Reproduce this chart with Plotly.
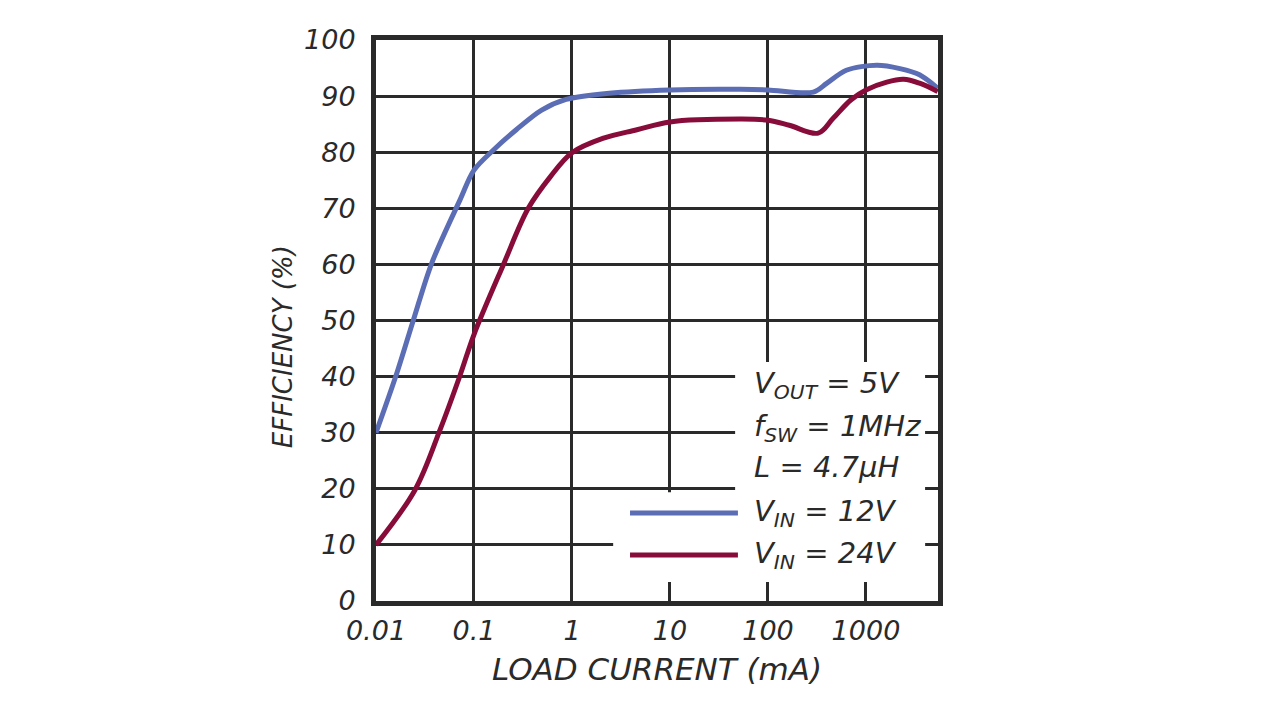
import plotly.graph_objects as go

# efficiency vs load current
load_12v = [0.01, 0.0163, 0.024, 0.037, 0.072, 0.1, 0.158, 0.27, 0.49, 0.87, 2.4, 10, 52, 100,
            290, 400, 630, 1290, 2220, 3520, 5400]
eff_12v = [30, 40.6, 50, 60.2, 71.5, 76.8, 80.4, 84, 87.5, 89.4, 90.5, 91.1, 91.2, 91.1,
           90.7, 92.3, 94.6, 95.5, 94.9, 93.8, 91.4]

load_24v = [0.01, 0.025, 0.045, 0.072, 0.1, 0.2, 0.358, 0.6, 1.0, 2.1, 4.6, 10, 52,
            100, 165, 325, 460, 700, 1000, 1630, 2420, 3520, 5400]
eff_24v = [10, 19.8, 30.5, 40.2, 47.5, 60, 70, 75.6, 79.9, 82.5, 84, 85.4, 85.9,
           85.7, 84.8, 83.4, 86, 89.3, 91.1, 92.5, 93, 92.3, 90.8]

x_ticks = [0.01, 0.1, 1, 10, 100, 1000]
x_labels = ["0.01", "0.1", "1", "10", "100", "1000"]
y_ticks = list(range(0, 101, 10))

notes = ["V<sub>OUT</sub> = 5V", "f<sub>SW</sub> = 1MHz", "L = 4.7µH",
         "V<sub>IN</sub> = 12V", "V<sub>IN</sub> = 24V"]

BLUE = "#5b6db4"
RED = "#870c3a"
INK = "#2a2a2a"
FONT = dict(family="DejaVu Sans", style="italic", color=INK)

fig = go.Figure()
fig.add_trace(go.Scatter(x=load_12v, y=eff_12v, mode="lines",
                         line=dict(color=BLUE, width=5, shape="spline", smoothing=0.9)))
fig.add_trace(go.Scatter(x=load_24v, y=eff_24v, mode="lines",
                         line=dict(color=RED, width=5, shape="spline", smoothing=1.0)))

# white patches behind the notes hide the grid there
for x0, x1, y0, y1 in [(0.639, 0.977, 0.034, 0.426), (0.422, 0.977, 0.034, 0.194)]:
    fig.add_shape(type="rect", xref="paper", yref="paper", x0=x0, x1=x1, y0=y0, y1=y1,
                  fillcolor="white", line_width=0, layer="above")

# legend keys
for yk, col in [(0.157, BLUE), (0.082, RED)]:
    fig.add_shape(type="line", xref="paper", yref="paper", x0=0.452, x1=0.644, y0=yk, y1=yk,
                  line=dict(color=col, width=5), layer="above")

for yk, txt in zip([0.385, 0.308, 0.239, 0.157, 0.082], notes):
    fig.add_annotation(xref="paper", yref="paper", x=0.669, y=yk, text=txt, showarrow=False,
                       xanchor="left", yanchor="middle", font=dict(FONT, size=29))

# y title sits a bit below the middle in the original
fig.add_annotation(xref="paper", yref="paper", x=-0.165, y=0.453, text="EFFICIENCY (%)",
                   textangle=-90, showarrow=False, xanchor="center", yanchor="middle",
                   font=dict(FONT, size=26))

fig.update_xaxes(type="log", range=[-2, 3.735], tickvals=x_ticks, ticktext=x_labels,
                 showgrid=True, gridcolor=INK, gridwidth=2.5,
                 showline=True, linecolor=INK, linewidth=5, mirror=True,
                 ticks="", ticklabelstandoff=2, tickfont=dict(FONT, size=27),
                 title=dict(text="LOAD CURRENT (mA)", font=dict(FONT, size=31), standoff=14))
fig.update_yaxes(range=[0, 100], tickvals=y_ticks,
                 showgrid=True, gridcolor=INK, gridwidth=2.5, zeroline=False,
                 showline=True, linecolor=INK, linewidth=5, mirror=True,
                 ticks="", ticklabelstandoff=10, tickfont=dict(FONT, size=27))

fig.update_layout(width=1264, height=704, showlegend=False,
                  plot_bgcolor="white", paper_bgcolor="white",
                  margin=dict(l=368, r=334, t=32, b=111))

fig.write_html("out.html")
